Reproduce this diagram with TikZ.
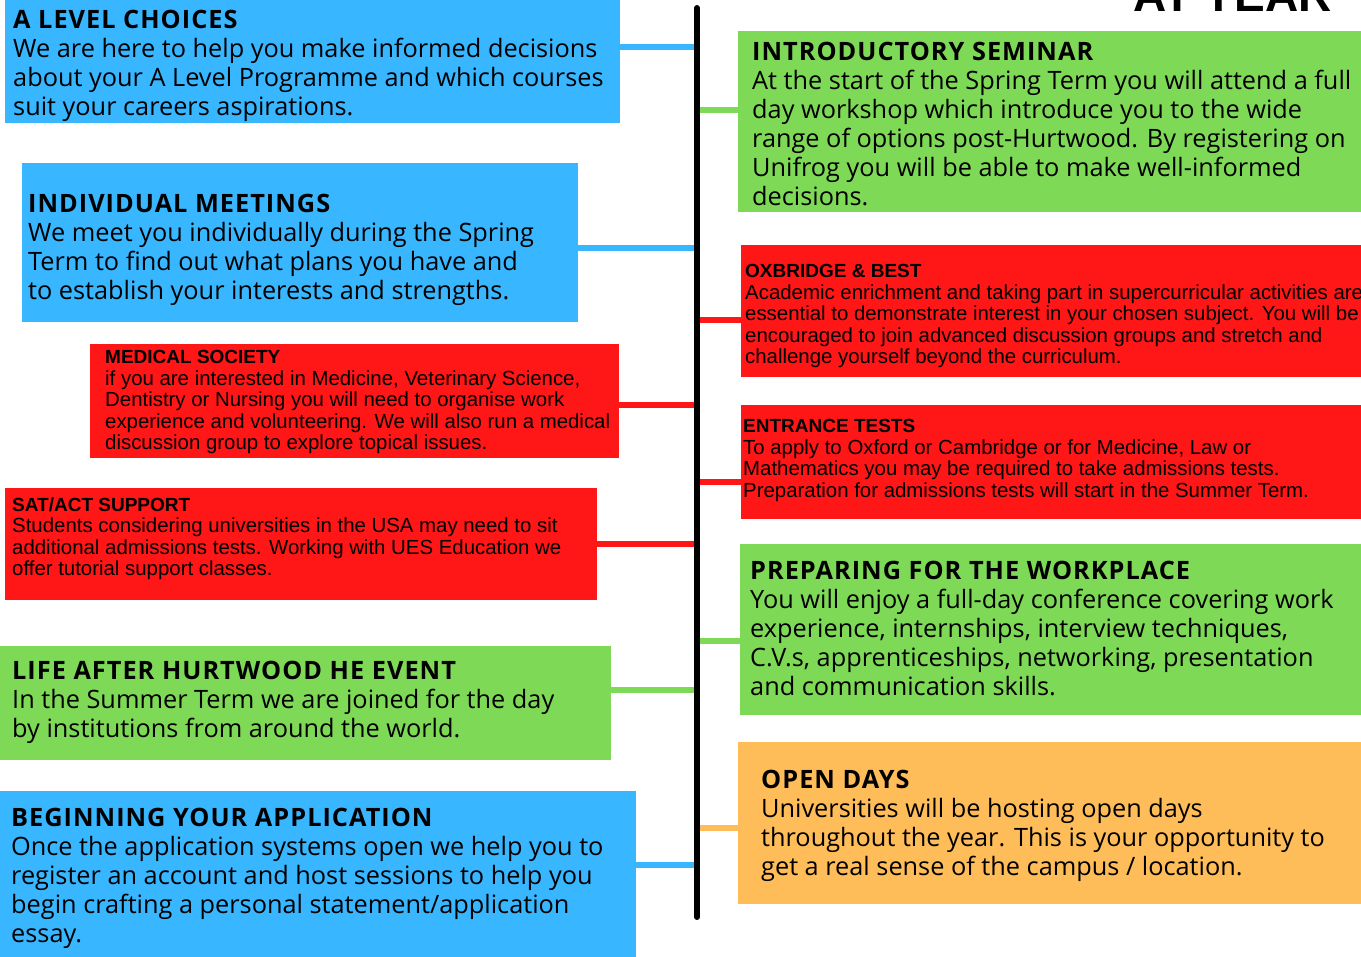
\documentclass[tikz,border=0pt]{standalone}
\usepackage{fontspec}
\usepackage{tikz}
\usetikzlibrary{positioning}
\setmainfont{Open Sans}
\newfontfamily\headfont{Open Sans}[LetterSpace=4]
\newfontfamily\smallfont{Liberation Sans}
\definecolor{cblue}{HTML}{38B6FF}
\definecolor{cgreen}{HTML}{7ED957}
\definecolor{cred}{HTML}{FF1616}
\definecolor{corange}{HTML}{FFBD59}
\newcommand{\bighd}[1]{{\headfont\bfseries #1}}
\newcommand{\smallhd}[1]{{\bfseries\fontsize{19}{21.5}\selectfont #1}}

\begin{document}
\begin{tikzpicture}[x=1pt, y=-1pt,
  box/.style = {anchor=north west, inner sep=0pt, outer sep=0pt},
  bluebox/.style = {box, fill=cblue}, greenbox/.style = {box, fill=cgreen},
  redbox/.style = {box, fill=cred}, orangebox/.style = {box, fill=corange},
  bigtext/.style = {anchor=north west, inner sep=0pt, align=left, font=\fontsize{25.3}{29}\selectfont},
  smalltext/.style = {anchor=north west, inner sep=0pt, align=left, font=\smallfont\fontsize{20.4}{21.5}\selectfont},
  link/.style = {line width=6pt, line cap=round}]
\path[use as bounding box, clip] (0,0) rectangle (1361,957);

\node[smalltext, font=\smallfont\bfseries\fontsize{46}{46}\selectfont, anchor=base east] (yeartitle) at (1332,12) {AT YEAR};

% left column
\node[bluebox, minimum width=615pt, minimum height=123pt] (alevel) at (5,0) {};
\node[bluebox, minimum width=556pt, minimum height=159pt] (indiv) at (22,163) {};
\node[redbox, minimum width=529pt, minimum height=114pt] (medsoc) at (90,344) {};
\node[redbox, minimum width=592pt, minimum height=112pt] (satact) at (5,488) {};
\node[greenbox, minimum width=611pt, minimum height=114pt] (lifeafter) at (0,646) {};
\node[bluebox, minimum width=636pt, minimum height=170pt] (beginapp) at (0,791) {};

% right column
\node[greenbox, minimum width=630pt, minimum height=181pt] (intro) at (738,31) {};
\node[redbox, minimum width=625pt, minimum height=132pt] (oxbridge) at (741,245) {};
\node[redbox, minimum width=625pt, minimum height=114pt] (entrance) at (741,405) {};
\node[greenbox, minimum width=625pt, minimum height=171pt] (workplace) at (740,544) {};
\node[orangebox, minimum width=625pt, minimum height=162pt] (opendays) at (738,742) {};

\node[bigtext] (alevelt) at (13,10) {\bighd{A LEVEL CHOICES}\\We are here to help you make informed decisions\\about your A Level Programme and which courses\\suit your careers aspirations.};
\node[bigtext] (indivt) at (28,194) {\bighd{INDIVIDUAL MEETINGS}\\We meet you individually during the Spring\\Term to find out what plans you have and\\to establish your interests and strengths.};
\node[smalltext] (medsoct) at (105,350.5) {\smallhd{MEDICAL SOCIETY}\\if you are interested in Medicine, Veterinary Science,\\Dentistry or Nursing you will need to organise work\\experience and volunteering. We will also run a medical\\discussion group to explore topical issues.};
\node[smalltext] (satactt) at (12,497.5) {\smallhd{SAT/ACT SUPPORT}\\Students considering universities in the USA may need to sit\\additional admissions tests. Working with UES Education we\\offer tutorial support classes.};
\node[bigtext] (lifeaftert) at (12,661) {\bighd{LIFE AFTER HURTWOOD HE EVENT}\\In the Summer Term we are joined for the day\\by institutions from around the world.};
\node[bigtext] (beginappt) at (11,808) {\bighd{BEGINNING YOUR APPLICATION}\\Once the application systems open we help you to\\register an account and host sessions to help you\\begin crafting a personal statement/application\\essay.};

\node[bigtext] (introt) at (752,42) {\bighd{INTRODUCTORY SEMINAR}\\At the start of the Spring Term you will attend a full\\day workshop which introduce you to the wide\\range of options post-Hurtwood. By registering on\\Unifrog you will be able to make well-informed\\decisions.};
\node[smalltext] (oxbridget) at (745,264.5) {\smallhd{OXBRIDGE \& BEST}\\Academic enrichment and taking part in supercurricular activities are\\essential to demonstrate interest in your chosen subject. You will be\\encouraged to join advanced discussion groups and stretch and\\challenge yourself beyond the curriculum.};
\node[smalltext] (entrancet) at (743,419.5) {\smallhd{ENTRANCE TESTS}\\To apply to Oxford or Cambridge or for Medicine, Law or\\Mathematics you may be required to take admissions tests.\\Preparation for admissions tests will start in the Summer Term.};
\node[bigtext] (workplacet) at (750,561) {\bighd{PREPARING FOR THE WORKPLACE}\\You will enjoy a full-day conference covering work\\experience, internships, interview techniques,\\C.V.s, apprenticeships, networking, presentation\\and communication skills.};
\node[bigtext] (opendayst) at (761,770) {\bighd{OPEN DAYS}\\Universities will be hosting open days\\throughout the year. This is your opportunity to\\get a real sense of the campus / location.};

% timeline
\coordinate (ltop) at (697,8);
\coordinate (lbot) at (697,917);
\coordinate (k1) at (697,47);
\coordinate (k2) at (697,248);
\coordinate (k3) at (697,405);
\coordinate (k4) at (697,544);
\coordinate (k5) at (697,690);
\coordinate (k6) at (697,865);
\coordinate (k7) at (697,110);
\coordinate (k8) at (697,320);
\coordinate (k9) at (697,482);
\coordinate (k10) at (697,641);
\coordinate (k11) at (697,828);

\draw[link, cblue] (k1) -- (k1 -| alevel.east);
\draw[link, cblue] (k2) -- (k2 -| indiv.east);
\draw[link, cred] (k3) -- (k3 -| medsoc.east);
\draw[link, cred] (k4) -- (k4 -| satact.east);
\draw[link, cgreen] (k5) -- (k5 -| lifeafter.east);
\draw[link, cblue] (k6) -- (k6 -| beginapp.east);
\draw[link, cgreen] (k7) -- (k7 -| intro.west);
\draw[link, cred] (k8) -- (k8 -| oxbridge.west);
\draw[link, cred] (k9) -- (k9 -| entrance.west);
\draw[link, cgreen] (k10) -- (k10 -| workplace.west);
\draw[link, corange] (k11) -- (k11 -| opendays.west);
\draw[line width=6pt, line cap=round] (ltop) -- (lbot);

\end{tikzpicture}
\end{document}
